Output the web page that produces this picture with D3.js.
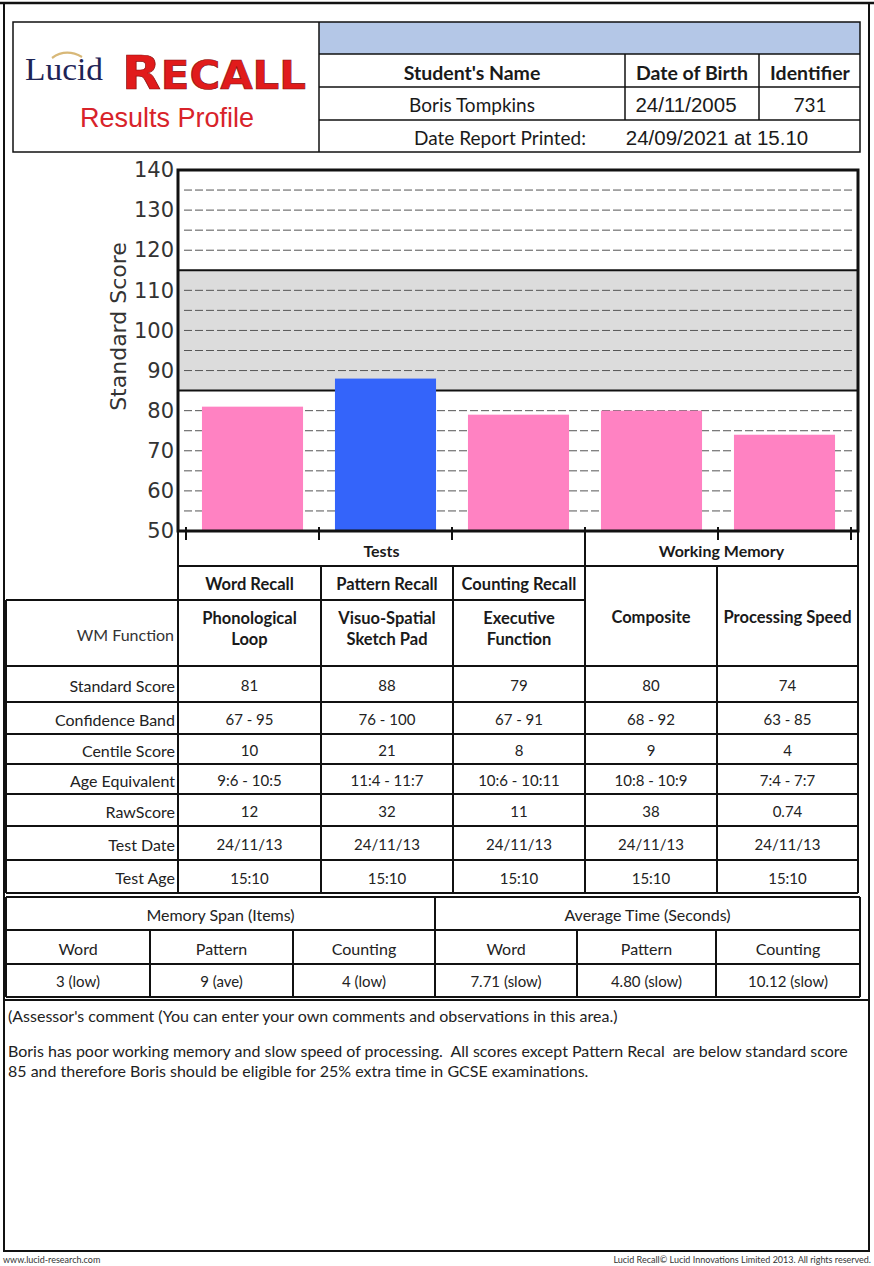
<!DOCTYPE html>
<html>
<head>
<meta charset="utf-8">
<script src="https://cdn.jsdelivr.net/npm/d3@7"></script>
<style>
  html, body { margin: 0; padding: 0; background: #fff; }
  svg { display: block; }
  text { white-space: pre; }
</style>
</head>
<body>
<svg id="chart" width="874" height="1266"></svg>
<script>
// ---------- data ----------
const categories = ["Word Recall", "Pattern Recall", "Counting Recall", "Composite", "Processing Speed"];
const scores = [81, 88, 79, 80, 74];
const barColors = ["#ff82c2", "#3464fa", "#ff82c2", "#ff82c2", "#ff82c2"];
const yTicks = [50, 60, 70, 80, 90, 100, 110, 120, 130, 140];
const gridValues = [55, 60, 65, 70, 75, 80, 90, 95, 100, 105, 110, 120, 125, 130, 135];
const averageBand = [85, 115];

const wmFunction = [["Phonological", "Loop"], ["Visuo-Spatial", "Sketch Pad"], ["Executive", "Function"], ["Composite"], ["Processing Speed"]];
const rowLabels = ["Standard Score", "Confidence Band", "Centile Score", "Age Equivalent", "RawScore", "Test Date", "Test Age"];
const confidenceBand = ["67 - 95", "76 - 100", "67 - 91", "68 - 92", "63 - 85"];
const centileScore = ["10", "21", "8", "9", "4"];
const ageEquivalent = ["9:6 - 10:5", "11:4 - 11:7", "10:6 - 10:11", "10:8 - 10:9", "7:4 - 7:7"];
const rawScore = ["12", "32", "11", "38", "0.74"];
const testDate = ["24/11/13", "24/11/13", "24/11/13", "24/11/13", "24/11/13"];
const testAge = ["15:10", "15:10", "15:10", "15:10", "15:10"];

const spanGroups = ["Memory Span (Items)", "Average Time (Seconds)"];
const spanHeaders = ["Word", "Pattern", "Counting", "Word", "Pattern", "Counting"];
const spanValues = ["3 (low)", "9 (ave)", "4 (low)", "7.71 (slow)", "4.80 (slow)", "10.12 (slow)"];

const studentName = "Boris Tompkins";
const dateOfBirth = "24/11/2005";
const identifier = "731";
const datePrinted = "24/09/2021 at 15.10";
const commentTitle = "(Assessor's comment (You can enter your own comments and observations in this area.)";
const commentLines = [
  "Boris has poor working memory and slow speed of processing.  All scores except Pattern Recal  are below standard score",
  "85 and therefore Boris should be eligible for 25% extra time in GCSE examinations."
];

// ---------- setup ----------
const svg = d3.select("#chart");
svg.append("rect").attr("width", 874).attr("height", 1266).attr("fill", "#fff");

const CAL = "Lato, 'Open Sans', sans-serif";
const ARIAL = "'Liberation Sans', Arial, sans-serif";
const DEJA = "'DejaVu Sans', sans-serif";

function line(g, x1, y1, x2, y2, w, c) {
  g.append("line").attr("x1", x1).attr("y1", y1).attr("x2", x2).attr("y2", y2)
    .attr("stroke", c || "#111").attr("stroke-width", w || 1.5);
}
function text(g, x, y, s, opts) {
  opts = opts || {};
  return g.append("text").attr("x", x).attr("y", y).text(s)
    .attr("font-family", opts.family || CAL)
    .attr("font-size", opts.size || 15)
    .attr("font-weight", opts.weight || "normal")
    .attr("fill", opts.fill || "#1a1a1a")
    .attr("text-anchor", opts.anchor || "middle")
    .attr("dominant-baseline", "central");
}

// ---------- outer frame ----------
const frame = svg.append("g");
line(frame, 0, 3, 874, 3, 2.5);
line(frame, 4, 3, 4, 1252, 2);
line(frame, 869, 3, 869, 1252, 2);

// ---------- header ----------
const hdr = svg.append("g");
hdr.append("rect").attr("x", 319).attr("y", 22).attr("width", 541).attr("height", 32).attr("fill", "#b4c7e7");
hdr.append("rect").attr("x", 13).attr("y", 22).attr("width", 847).attr("height", 130)
  .attr("fill", "none").attr("stroke", "#111").attr("stroke-width", 1.5);
line(hdr, 319, 22, 319, 152);
[54, 87, 120].forEach(y => line(hdr, 319, y, 860, y));
line(hdr, 625, 54, 625, 120);
line(hdr, 759, 54, 759, 120);
text(hdr, 472, 72, "Student's Name", {size: 19.5, weight: "bold"});
text(hdr, 692, 72, "Date of Birth", {size: 19.5, weight: "bold"});
text(hdr, 810, 72, "Identifier", {size: 19.5, weight: "bold"});
text(hdr, 472, 104, studentName, {size: 19});
text(hdr, 686, 104, dateOfBirth, {size: 20.5, family: ARIAL});
text(hdr, 810, 104, identifier, {size: 19});
text(hdr, 500, 137, "Date Report Printed:", {size: 19});
text(hdr, 717, 137, datePrinted, {size: 20.5, family: ARIAL});

// logo
const logo = svg.append("g");
logo.append("path").attr("d", "M52,58 Q66,48 82,57").attr("fill", "none").attr("stroke", "#d8b878").attr("stroke-width", 2.2);
text(logo, 25, 69, "Lucid", {size: 32, family: "'Liberation Serif', serif", fill: "#1d2456", anchor: "start"})
  .attr("textLength", 78).attr("lengthAdjust", "spacingAndGlyphs");
const rec = logo.append("text").attr("x", 122).attr("y", 89)
  .attr("font-family", "'DejaVu Sans', sans-serif").attr("font-weight", "bold")
  .attr("fill", "#e11b1b").attr("stroke", "#8a0f0f").attr("stroke-width", 0.7)
  .attr("textLength", 184).attr("lengthAdjust", "spacingAndGlyphs");
rec.append("tspan").attr("font-size", 47).text("R");
rec.append("tspan").attr("font-size", 39).text("ECALL");
text(logo, 167, 118, "Results Profile", {size: 27, family: ARIAL, fill: "#d8232a"});

// ---------- chart ----------
const plot = {left: 178, right: 858, top: 170, bottom: 531};
const y = d3.scaleLinear().domain([50, 140]).range([plot.bottom, plot.top]);
const x = d3.scaleBand().domain(categories).range([186, 851]).paddingInner(0.24).paddingOuter(0.12);

const chart = svg.append("g");
chart.append("rect").attr("x", plot.left).attr("y", y(averageBand[1]))
  .attr("width", plot.right - plot.left).attr("height", y(averageBand[0]) - y(averageBand[1]))
  .attr("fill", "#dcdcdc");
chart.selectAll("line.grid").data(gridValues).join("line").attr("class", "grid")
  .attr("x1", plot.left + 6).attr("x2", plot.right - 4)
  .attr("y1", d => y(d)).attr("y2", d => y(d))
  .attr("stroke", "#555").attr("stroke-width", 1).attr("stroke-dasharray", "8,3");
chart.selectAll("line.band").data(averageBand).join("line").attr("class", "band")
  .attr("x1", plot.left).attr("x2", plot.right)
  .attr("y1", d => y(d)).attr("y2", d => y(d))
  .attr("stroke", "#111").attr("stroke-width", 2);
chart.selectAll("rect.bar").data(categories).join("rect").attr("class", "bar")
  .attr("x", d => x(d)).attr("width", x.bandwidth())
  .attr("y", (d, i) => y(scores[i])).attr("height", (d, i) => y(50) - y(scores[i]))
  .attr("fill", (d, i) => barColors[i]);
chart.append("rect").attr("x", plot.left).attr("y", plot.top)
  .attr("width", plot.right - plot.left).attr("height", plot.bottom - plot.top)
  .attr("fill", "none").attr("stroke", "#111").attr("stroke-width", 3);

// category boundary ticks
const edges = d3.range(categories.length + 1).map(i => x.range()[0] + i * x.step());
chart.selectAll("line.ctick").data(edges).join("line").attr("class", "ctick")
  .attr("x1", d => d).attr("x2", d => d).attr("y1", plot.bottom - 4).attr("y2", plot.bottom + 9)
  .attr("stroke", "#111").attr("stroke-width", 2);

const yAxis = chart.append("g").attr("transform", `translate(${plot.left},0)`)
  .call(d3.axisLeft(y).tickValues(yTicks).tickSize(0).tickPadding(4));
yAxis.select(".domain").remove();
yAxis.selectAll("text").attr("font-family", DEJA).attr("font-size", 21).attr("fill", "#333");
text(chart, 0, 0, "Standard Score", {size: 22, family: DEJA, fill: "#333"})
  .attr("transform", `translate(118,${(plot.top + plot.bottom) / 2 - 24}) rotate(-90)`);

// ---------- main table ----------
const cols = [178, 321, 453, 585, 717, 858];
const colMid = i => (cols[i] + cols[i + 1]) / 2;
const tbl = svg.append("g");
const TW = 2;
text(tbl, (cols[0] + cols[3]) / 2, 550, "Tests", {size: 16, weight: "bold"});
text(tbl, (cols[3] + cols[5]) / 2, 550, "Working Memory", {size: 16, weight: "bold"});
line(tbl, cols[0], 566, cols[5], 566, TW);
line(tbl, cols[0], plot.bottom, cols[0], 893, TW);
line(tbl, cols[5], plot.bottom, cols[5], 893, TW);
line(tbl, cols[3], 537, cols[3], 893, TW);
line(tbl, cols[4], 566, cols[4], 893, TW);
line(tbl, cols[1], 566, cols[1], 893, TW);
line(tbl, cols[2], 566, cols[2], 893, TW);
line(tbl, 6, 600, cols[3], 600, TW);
line(tbl, 6, 600, 6, 893, TW);
tbl.selectAll("text.tname").data(categories.slice(0, 3)).join("text").attr("class", "tname")
  .attr("x", (d, i) => colMid(i)).attr("y", 584).text(d => d)
  .attr("font-family", CAL).attr("font-size", 16.5).attr("font-weight", "bold")
  .attr("text-anchor", "middle").attr("dominant-baseline", "central").attr("fill", "#1a1a1a");
text(tbl, 174, 634, "WM Function", {size: 16, anchor: "end", fill: "#333"});
wmFunction.forEach((lines, i) => {
  lines.forEach((s, j) => {
    text(tbl, colMid(i), lines.length === 1 ? 617 : 618 + j * 21, s, {size: 16.5, weight: "bold"});
  });
});
const rowEdges = [666, 702, 734, 764, 794, 826, 860, 893];
rowEdges.forEach(ry => line(tbl, 6, ry, cols[5], ry, TW));
const rowData = [scores.map(String), confidenceBand, centileScore, ageEquivalent, rawScore, testDate, testAge];
rowLabels.forEach((lab, r) => {
  const cy = (rowEdges[r] + rowEdges[r + 1]) / 2 + 1;
  text(tbl, 175, cy, lab, {size: 16, anchor: "end", fill: "#222"});
  tbl.selectAll(null).data(rowData[r]).join("text")
    .attr("x", (d, i) => colMid(i)).attr("y", cy).text(d => d)
    .attr("font-family", CAL).attr("font-size", 15).attr("fill", "#222")
    .attr("text-anchor", "middle").attr("dominant-baseline", "central");
});

// ---------- memory span table ----------
const sp = svg.append("g");
const spL = 6, spR = 860, spMid = 435;
const spCols = [6, 150, 293, 435, 577, 716, 860];
[897, 930, 964, 997].forEach(ry => line(sp, spL, ry, spR, ry, TW));
line(sp, spL, 897, spL, 997, TW);
line(sp, spR, 897, spR, 997, TW);
line(sp, spMid, 897, spMid, 997, TW);
spCols.slice(1, -1).forEach(cx => line(sp, cx, 930, cx, 997, TW));
spanGroups.forEach((g, i) => text(sp, i === 0 ? (spL + spMid) / 2 : (spMid + spR) / 2, 914, g, {size: 16, fill: "#222"}));
spanHeaders.forEach((h, i) => text(sp, (spCols[i] + spCols[i + 1]) / 2, 948, h, {size: 16, fill: "#222"}));
spanValues.forEach((v, i) => text(sp, (spCols[i] + spCols[i + 1]) / 2, 981, v, {size: 15, fill: "#222"}));

// ---------- comment box ----------
const cm = svg.append("g");
cm.append("rect").attr("x", 4).attr("y", 1000).attr("width", 865).attr("height", 251)
  .attr("fill", "none").attr("stroke", "#111").attr("stroke-width", 2);
text(cm, 8, 1015, commentTitle, {size: 16, anchor: "start", fill: "#222"});
commentLines.forEach((s, i) => text(cm, 8, 1050 + i * 20, s, {size: 16, anchor: "start", fill: "#222"}));

// ---------- footer ----------
text(svg, 3, 1259, "www.lucid-research.com", {size: 9, anchor: "start", fill: "#333"});
text(svg, 871, 1259, "Lucid Recall© Lucid Innovations Limited 2013. All rights reserved.", {size: 9, anchor: "end", fill: "#333"});
</script>
</body>
</html>
